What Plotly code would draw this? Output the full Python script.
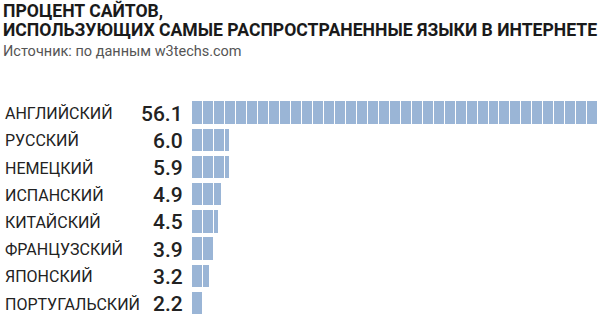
import math
import plotly.graph_objects as go

languages = ["АНГЛИЙСКИЙ", "РУССКИЙ", "НЕМЕЦКИЙ", "ИСПАНСКИЙ",
             "КИТАЙСКИЙ", "ФРАНЦУЗСКИЙ", "ЯПОНСКИЙ", "ПОРТУГАЛЬСКИЙ"]
shares = [56.1, 6.0, 5.9, 4.9, 4.5, 3.9, 3.2, 2.2]
value_labels = ["56.1", "6.0", "5.9", "4.9", "4.5", "3.9", "3.2", "2.2"]

title_line1 = "ПРОЦЕНТ САЙТОВ,"
title_line2 = "ИСПОЛЬЗУЮЩИХ САМЫЕ РАСПРОСТРАНЕННЫЕ ЯЗЫКИ В ИНТЕРНЕТЕ"
subtitle = "Источник: по данным w3techs.com"

# style
W, H = 600, 318
ML, MR, MT, MB = 186, 0, 99, 0
PW, PH = W - ML - MR, H - MT - MB
SCALE = 7.33  # px per percent
SEG = 1.5     # percent per block
LEAD = 0.7    # blank lead before first block
BAR = "#9ab5d6"

fig = go.Figure()
fig.add_bar(y=languages, x=[min(LEAD, v) for v in shares], orientation="h",
            marker=dict(color="rgba(0,0,0,0)", line=dict(width=0)),
            hoverinfo="skip", showlegend=False)
nseg = math.ceil((max(shares) - LEAD) / SEG)
for k in range(nseg):
    widths = [max(0.0, min(SEG, v - LEAD - k * SEG)) for v in shares]
    fig.add_bar(y=languages, x=widths, orientation="h",
                marker=dict(color=BAR, line=dict(width=1, color="white")),
                hoverinfo="skip", showlegend=False)

def px_x(p):
    return (p - ML) / PW

def px_y(p):
    return (H - MB - p) / PH

ann = []
for lang, lab in zip(languages, value_labels):
    ann.append(dict(x=px_x(3), y=lang, xref="paper", yref="y", text=lang,
                    xanchor="left", yanchor="middle", showarrow=False, yshift=-1,
                    font=dict(family="Roboto", size=16, color="#222")))
    ann.append(dict(x=px_x(185), y=lang, xref="paper", yref="y", text=lab,
                    xanchor="right", yanchor="middle", showarrow=False, yshift=-1,
                    font=dict(family="Roboto", size=21, color="#222", weight=500)))

ann.append(dict(x=px_x(1), y=px_y(10.5), xref="paper", yref="paper", text="<b>" + title_line1 + "</b>",
                xanchor="left", yanchor="middle", showarrow=False,
                font=dict(family="Roboto", size=17.6, color="#1a1a1a")))
ann.append(dict(x=px_x(1), y=px_y(30), xref="paper", yref="paper", text="<b>" + title_line2 + "</b>",
                xanchor="left", yanchor="middle", showarrow=False,
                font=dict(family="Roboto", size=17.6, color="#1a1a1a")))
ann.append(dict(x=px_x(1), y=px_y(51), xref="paper", yref="paper", text=subtitle,
                xanchor="left", yanchor="middle", showarrow=False,
                font=dict(family="Roboto", size=14.5, color="#555")))

fig.update_layout(
    width=W, height=H, margin=dict(l=ML, r=MR, t=MT, b=MB, pad=0),
    barmode="stack", bargap=0.14,
    paper_bgcolor="white", plot_bgcolor="white",
    xaxis=dict(range=[0, PW / SCALE], visible=False, fixedrange=True),
    yaxis=dict(categoryorder="array", categoryarray=languages[::-1],
               visible=False, fixedrange=True),
    annotations=ann, showlegend=False,
)
fig.write_html("out.html", config={"displayModeBar": False})
